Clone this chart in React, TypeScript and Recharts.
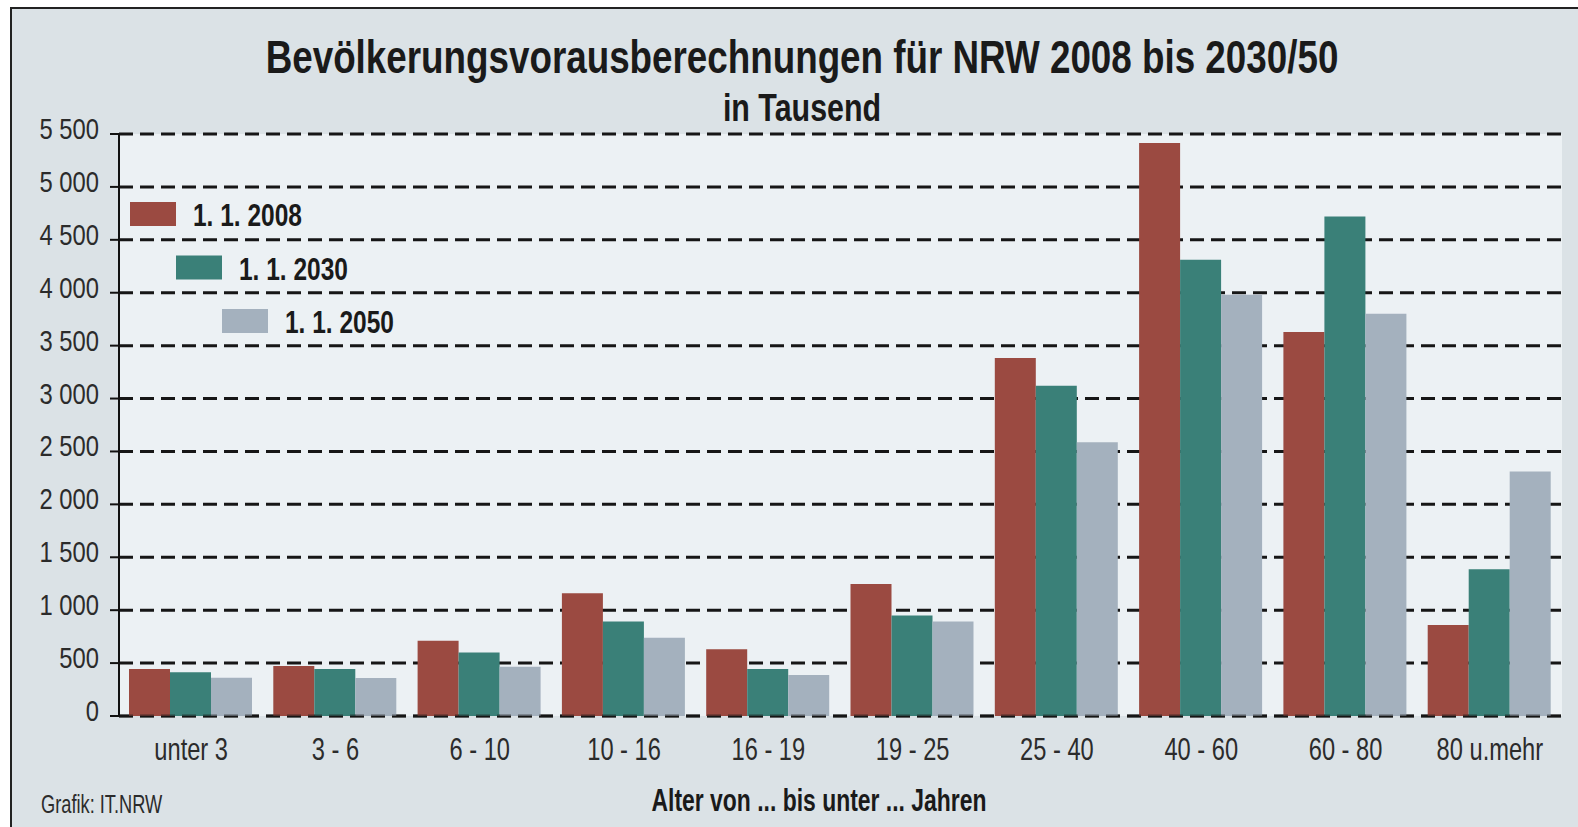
import React from 'react';
import { BarChart, Bar, XAxis, YAxis, CartesianGrid, Legend, ReferenceLine } from 'recharts';

// Altersgruppen (Jahre)
const CATEGORIES = ['unter 3', '3 - 6', '6 - 10', '10 - 16', '16 - 19', '19 - 25', '25 - 40', '40 - 60', '60 - 80', '80 u.mehr'];

// Bevölkerung in Tausend
const VALUES_2008 = [444, 473, 712, 1160, 630, 1248, 3382, 5415, 3628, 860];
const VALUES_2030 = [413, 444, 599, 892, 444, 949, 3120, 4311, 4721, 1387];
const VALUES_2050 = [362, 360, 466, 740, 388, 892, 2588, 3981, 3801, 2310];

const SERIES_LABELS = ['1. 1. 2008', '1. 1. 2030', '1. 1. 2050'];
const Y_TICKS = [0, 500, 1000, 1500, 2000, 2500, 3000, 3500, 4000, 4500, 5000, 5500];

const COLORS = ['#9b4a41', '#3a8078', '#a4b1be'];
const FONT = '"Liberation Sans", Arial, sans-serif';
const INK = '#1a1a1a';

const data = CATEGORIES.map((group, i) => ({
    group,
    y2008: VALUES_2008[i],
    y2030: VALUES_2030[i],
    y2050: VALUES_2050[i],
}));

const fmt = (v: number) =>
    v >= 1000 ? `${Math.floor(v / 1000)} ${String(v % 1000).padStart(3, '0')}` : String(v);

// condensed look: the original uses a narrow grotesque, so squeeze Liberation Sans horizontally
// eslint-disable-next-line @typescript-eslint/no-explicit-any
const Narrow = ({ x, y, sx, children, ...rest }: any) => (
    <text transform={`translate(${x}, ${y}) scale(${sx}, 1)`} fontFamily={FONT} {...rest}>
        {children}
    </text>
);

// eslint-disable-next-line @typescript-eslint/no-explicit-any
const YTick = ({ x, y, payload }: any) => (
    <Narrow x={x} y={y + 5} sx={0.82} textAnchor="end" fontSize={29} fill="#2b2b2b">
        {fmt(payload.value)}
    </Narrow>
);

// eslint-disable-next-line @typescript-eslint/no-explicit-any
const XTick = ({ x, y, payload }: any) => (
    <Narrow x={x} y={y + 44} sx={0.74} textAnchor="middle" fontSize={32} fill="#2b2b2b">
        {payload.value}
    </Narrow>
);

// eslint-disable-next-line @typescript-eslint/no-explicit-any
const StairLegend = ({ payload }: any) => (
    <svg width={480} height={360} style={{ display: 'block' }}>
        {/* eslint-disable-next-line @typescript-eslint/no-explicit-any */}
        {(payload || []).map((entry: any, i: number) => {
            const rx = 130 + i * 46;
            const ry = 202 + i * 53.5;
            return (
                <g key={entry.value}>
                    <rect x={rx} y={ry} width={46} height={24} fill={entry.color} />
                    <Narrow x={rx + 63} y={ry + 24} sx={0.79} fontWeight="bold" fontSize={31} fill={INK}>
                        {entry.value}
                    </Narrow>
                </g>
            );
        })}
    </svg>
);

export default function App() {
    return (
        <div style={{ position: 'relative', width: 1578, height: 827, background: '#fff', overflow: 'hidden' }}>
            <style>{'body{margin:0}'}</style>
            <div
                style={{
                    position: 'absolute',
                    left: 10,
                    top: 7,
                    right: 0,
                    bottom: 0,
                    background: '#dbe2e6',
                    borderTop: '2px solid #222',
                    borderLeft: '2px solid #222',
                }}
            />
            <div style={{ position: 'absolute', left: 0, top: 0 }}>
                <BarChart
                    width={1578}
                    height={827}
                    data={data}
                    margin={{ top: 134, right: 16, left: 0, bottom: 0 }}
                    barCategoryGap={10}
                    barGap={0}
                >
                    <CartesianGrid
                        vertical={false}
                        stroke="#161616"
                        strokeWidth={3}
                        strokeDasharray="14 7"
                        fill="#ecf1f4"
                    />
                    <XAxis
                        dataKey="group"
                        height={111}
                        axisLine={false}
                        tickLine={false}
                        tickSize={0}
                        tickMargin={0}
                        interval={0}
                        tick={<XTick />}
                    />
                    <YAxis
                        width={119}
                        domain={[0, 5500]}
                        ticks={Y_TICKS}
                        interval={0}
                        tickSize={9}
                        tickMargin={11}
                        axisLine={{ stroke: '#111', strokeWidth: 2 }}
                        tickLine={{ stroke: '#111', strokeWidth: 2 }}
                        tick={<YTick />}
                    />
                    <Legend
                        layout="horizontal"
                        verticalAlign="middle"
                        align="center"
                        content={<StairLegend />}
                        wrapperStyle={{ position: 'absolute', left: 0, top: 0, width: 480, height: 360 }}
                    />
                    <Bar dataKey="y2008" name={SERIES_LABELS[0]} fill={COLORS[0]} isAnimationActive={false} />
                    <Bar dataKey="y2030" name={SERIES_LABELS[1]} fill={COLORS[1]} isAnimationActive={false} />
                    <Bar dataKey="y2050" name={SERIES_LABELS[2]} fill={COLORS[2]} isAnimationActive={false} />
                    <ReferenceLine y={0} stroke="#161616" strokeOpacity={0.55} strokeWidth={3} strokeDasharray="14 7" />
                </BarChart>
            </div>
            <svg
                width={1578}
                height={827}
                style={{ position: 'absolute', left: 0, top: 0, pointerEvents: 'none' }}
            >
                <Narrow x={802} y={73} sx={0.8} textAnchor="middle" fontWeight="bold" fontSize={46} fill={INK}>
                    Bevölkerungsvorausberechnungen für NRW 2008 bis 2030/50
                </Narrow>
                <Narrow x={802} y={121} sx={0.8} textAnchor="middle" fontWeight="bold" fontSize={38} fill={INK}>
                    in Tausend
                </Narrow>
                <Narrow x={819} y={811} sx={0.74} textAnchor="middle" fontWeight="bold" fontSize={31} fill={INK}>
                    Alter von ... bis unter ... Jahren
                </Narrow>
                <Narrow x={41} y={813} sx={0.73} fontSize={25} fill="#2b2b2b">
                    Grafik: IT.NRW
                </Narrow>
            </svg>
        </div>
    );
}
